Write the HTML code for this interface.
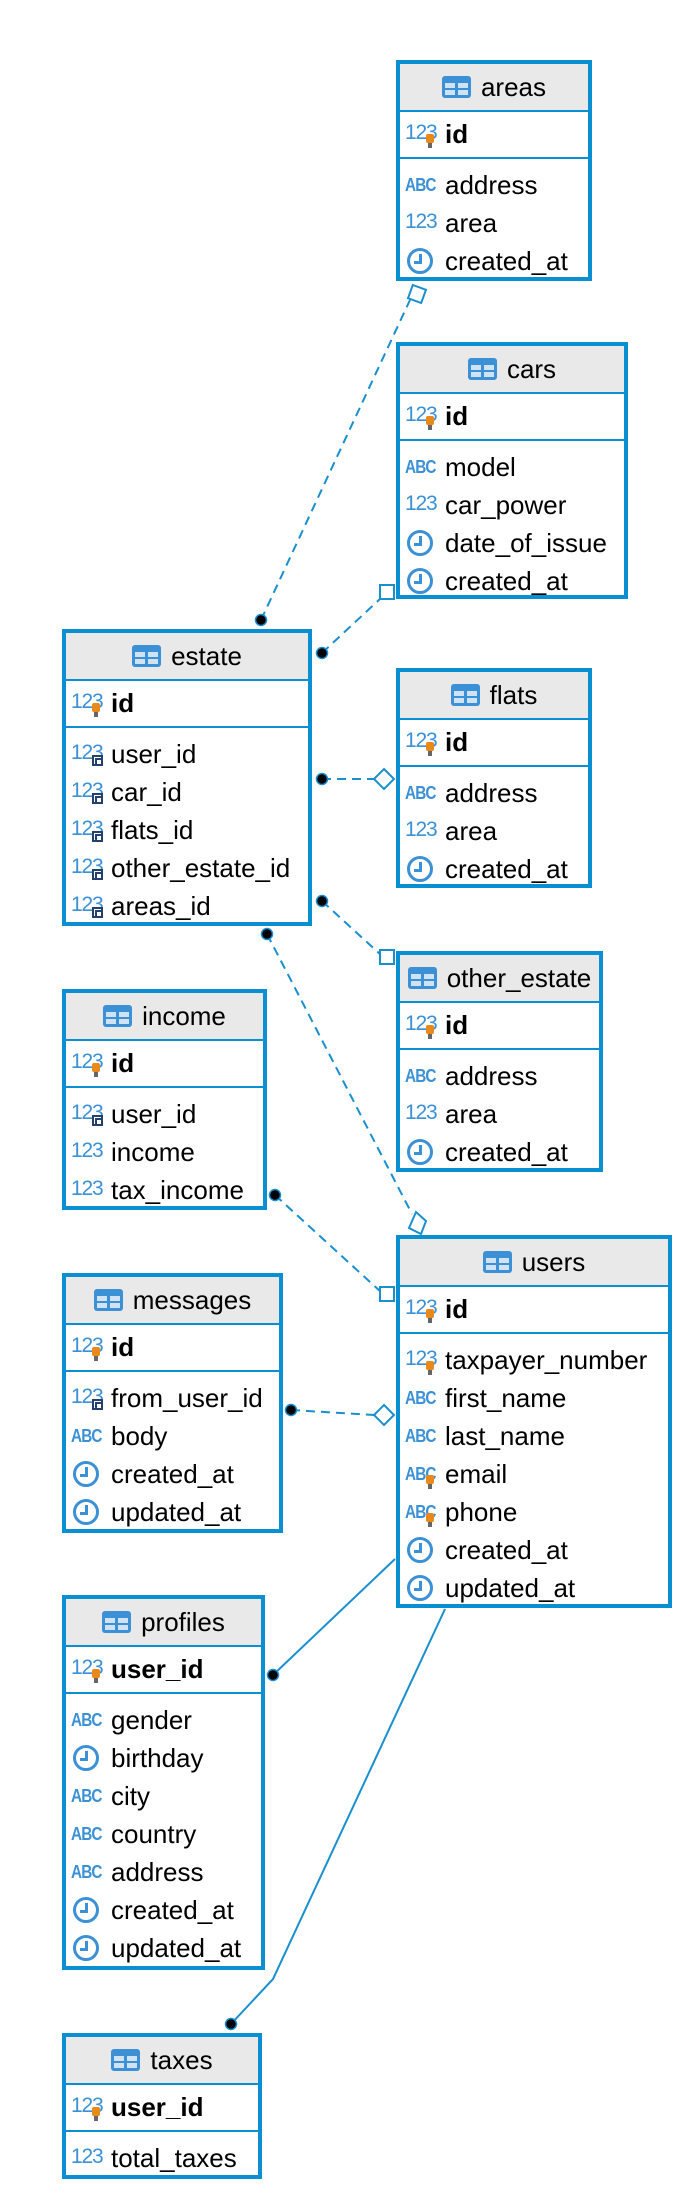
<!DOCTYPE html>
<html><head><meta charset="utf-8"><style>
*{box-sizing:border-box;margin:0;padding:0}
body{width:688px;height:2198px;background:#fff;position:relative;overflow:hidden;font-family:"Liberation Sans",sans-serif;color:#000}
.t{position:absolute;border:4px solid #0b8fd3;background:#fff;overflow:hidden}
.h{height:48px;background:#e9e9e9;border-bottom:2px solid #0b8fd3;display:flex;align-items:center;justify-content:center;font-size:26px}
.h svg{margin-right:10px}
.k{height:47px;border-bottom:2px solid #0b8fd3;position:relative;font-size:26px;font-weight:bold;line-height:45px}
.fs{padding-top:7px}
.r{height:38px;position:relative;font-size:26px;line-height:38px}
.tx{position:absolute;left:45px;top:0;white-space:nowrap}
.k .tx{line-height:45px}
.i{position:absolute;left:5px;top:0;width:36px;height:38px}
.k .i{height:45px}
.n{position:absolute;left:0;top:8px;font-size:21px;color:#3b90d6;font-weight:normal;line-height:20px;letter-spacing:-1.2px}
.k .n{top:11px}
.a{position:absolute;left:0;top:10px;font-size:18px;color:#3b90d6;font-weight:bold;line-height:18px;letter-spacing:-1px;transform:scaleX(.85);transform-origin:0 0}
.c{position:absolute;left:2px;top:6px;width:26px;height:26px;border:3px solid #3b90d6;border-radius:50%}
.c:before{content:"";position:absolute;left:9px;top:3px;width:3px;height:9px;background:#3b90d6}
.c:after{content:"";position:absolute;left:4px;top:10px;width:8px;height:3px;background:#3b90d6}
.p{position:absolute;left:21px;top:20px;width:8px;height:9px;background:#e8891a;border-radius:2px}
.p:after{content:"";position:absolute;left:2px;top:9px;width:4px;height:5px;background:#666}
.k .p{top:22px}
.f{position:absolute;left:21px;top:20px;width:11px;height:11px;background:#fff;border:2px solid #23406e}
.f:after{content:"";position:absolute;left:1px;top:1px;width:4px;height:4px;border-left:2px solid #23406e;border-top:2px solid #23406e}
svg.l{position:absolute;left:0;top:0}
</style></head><body>

<!-- areas -->
<div class="t" style="left:396px;top:60px;width:196px;height:221px">
<div class="h"><svg width="29" height="22"><rect width="29" height="22" rx="3" fill="#3b90d6"/><rect x="3" y="7" width="10" height="5" fill="#cfe3f5"/><rect x="16" y="7" width="10" height="5" fill="#cfe3f5"/><rect x="3" y="14" width="10" height="5" fill="#cfe3f5"/><rect x="16" y="14" width="10" height="5" fill="#cfe3f5"/></svg>areas</div>
<div class="k"><div class="i"><span class="n">123</span><span class="p"></span></div><span class="tx">id</span></div>
<div class="fs">
<div class="r"><div class="i"><span class="a">ABC</span></div><span class="tx">address</span></div>
<div class="r"><div class="i"><span class="n">123</span></div><span class="tx">area</span></div>
<div class="r"><div class="i"><span class="c"></span></div><span class="tx">created_at</span></div>
</div></div>

<!-- cars -->
<div class="t" style="left:396px;top:342px;width:232px;height:257px">
<div class="h"><svg width="29" height="22"><rect width="29" height="22" rx="3" fill="#3b90d6"/><rect x="3" y="7" width="10" height="5" fill="#cfe3f5"/><rect x="16" y="7" width="10" height="5" fill="#cfe3f5"/><rect x="3" y="14" width="10" height="5" fill="#cfe3f5"/><rect x="16" y="14" width="10" height="5" fill="#cfe3f5"/></svg>cars</div>
<div class="k"><div class="i"><span class="n">123</span><span class="p"></span></div><span class="tx">id</span></div>
<div class="fs">
<div class="r"><div class="i"><span class="a">ABC</span></div><span class="tx">model</span></div>
<div class="r"><div class="i"><span class="n">123</span></div><span class="tx">car_power</span></div>
<div class="r"><div class="i"><span class="c"></span></div><span class="tx">date_of_issue</span></div>
<div class="r"><div class="i"><span class="c"></span></div><span class="tx">created_at</span></div>
</div></div>

<!-- estate -->
<div class="t" style="left:62px;top:629px;width:250px;height:297px">
<div class="h"><svg width="29" height="22"><rect width="29" height="22" rx="3" fill="#3b90d6"/><rect x="3" y="7" width="10" height="5" fill="#cfe3f5"/><rect x="16" y="7" width="10" height="5" fill="#cfe3f5"/><rect x="3" y="14" width="10" height="5" fill="#cfe3f5"/><rect x="16" y="14" width="10" height="5" fill="#cfe3f5"/></svg>estate</div>
<div class="k"><div class="i"><span class="n">123</span><span class="p"></span></div><span class="tx">id</span></div>
<div class="fs">
<div class="r"><div class="i"><span class="n">123</span><span class="f"></span></div><span class="tx">user_id</span></div>
<div class="r"><div class="i"><span class="n">123</span><span class="f"></span></div><span class="tx">car_id</span></div>
<div class="r"><div class="i"><span class="n">123</span><span class="f"></span></div><span class="tx">flats_id</span></div>
<div class="r"><div class="i"><span class="n">123</span><span class="f"></span></div><span class="tx">other_estate_id</span></div>
<div class="r"><div class="i"><span class="n">123</span><span class="f"></span></div><span class="tx">areas_id</span></div>
</div></div>

<!-- flats -->
<div class="t" style="left:396px;top:668px;width:196px;height:220px">
<div class="h"><svg width="29" height="22"><rect width="29" height="22" rx="3" fill="#3b90d6"/><rect x="3" y="7" width="10" height="5" fill="#cfe3f5"/><rect x="16" y="7" width="10" height="5" fill="#cfe3f5"/><rect x="3" y="14" width="10" height="5" fill="#cfe3f5"/><rect x="16" y="14" width="10" height="5" fill="#cfe3f5"/></svg>flats</div>
<div class="k"><div class="i"><span class="n">123</span><span class="p"></span></div><span class="tx">id</span></div>
<div class="fs">
<div class="r"><div class="i"><span class="a">ABC</span></div><span class="tx">address</span></div>
<div class="r"><div class="i"><span class="n">123</span></div><span class="tx">area</span></div>
<div class="r"><div class="i"><span class="c"></span></div><span class="tx">created_at</span></div>
</div></div>

<!-- other_estate -->
<div class="t" style="left:396px;top:951px;width:207px;height:221px">
<div class="h"><svg width="29" height="22"><rect width="29" height="22" rx="3" fill="#3b90d6"/><rect x="3" y="7" width="10" height="5" fill="#cfe3f5"/><rect x="16" y="7" width="10" height="5" fill="#cfe3f5"/><rect x="3" y="14" width="10" height="5" fill="#cfe3f5"/><rect x="16" y="14" width="10" height="5" fill="#cfe3f5"/></svg>other_estate</div>
<div class="k"><div class="i"><span class="n">123</span><span class="p"></span></div><span class="tx">id</span></div>
<div class="fs">
<div class="r"><div class="i"><span class="a">ABC</span></div><span class="tx">address</span></div>
<div class="r"><div class="i"><span class="n">123</span></div><span class="tx">area</span></div>
<div class="r"><div class="i"><span class="c"></span></div><span class="tx">created_at</span></div>
</div></div>

<!-- income -->
<div class="t" style="left:62px;top:989px;width:205px;height:221px">
<div class="h"><svg width="29" height="22"><rect width="29" height="22" rx="3" fill="#3b90d6"/><rect x="3" y="7" width="10" height="5" fill="#cfe3f5"/><rect x="16" y="7" width="10" height="5" fill="#cfe3f5"/><rect x="3" y="14" width="10" height="5" fill="#cfe3f5"/><rect x="16" y="14" width="10" height="5" fill="#cfe3f5"/></svg>income</div>
<div class="k"><div class="i"><span class="n">123</span><span class="p"></span></div><span class="tx">id</span></div>
<div class="fs">
<div class="r"><div class="i"><span class="n">123</span><span class="f"></span></div><span class="tx">user_id</span></div>
<div class="r"><div class="i"><span class="n">123</span></div><span class="tx">income</span></div>
<div class="r"><div class="i"><span class="n">123</span></div><span class="tx">tax_income</span></div>
</div></div>

<!-- users -->
<div class="t" style="left:396px;top:1235px;width:276px;height:373px">
<div class="h"><svg width="29" height="22"><rect width="29" height="22" rx="3" fill="#3b90d6"/><rect x="3" y="7" width="10" height="5" fill="#cfe3f5"/><rect x="16" y="7" width="10" height="5" fill="#cfe3f5"/><rect x="3" y="14" width="10" height="5" fill="#cfe3f5"/><rect x="16" y="14" width="10" height="5" fill="#cfe3f5"/></svg>users</div>
<div class="k"><div class="i"><span class="n">123</span><span class="p"></span></div><span class="tx">id</span></div>
<div class="fs">
<div class="r"><div class="i"><span class="n">123</span><span class="p"></span></div><span class="tx">taxpayer_number</span></div>
<div class="r"><div class="i"><span class="a">ABC</span></div><span class="tx">first_name</span></div>
<div class="r"><div class="i"><span class="a">ABC</span></div><span class="tx">last_name</span></div>
<div class="r"><div class="i"><span class="a">ABC</span><span class="p"></span></div><span class="tx">email</span></div>
<div class="r"><div class="i"><span class="a">ABC</span><span class="p"></span></div><span class="tx">phone</span></div>
<div class="r"><div class="i"><span class="c"></span></div><span class="tx">created_at</span></div>
<div class="r"><div class="i"><span class="c"></span></div><span class="tx">updated_at</span></div>
</div></div>

<!-- messages -->
<div class="t" style="left:62px;top:1273px;width:221px;height:260px">
<div class="h"><svg width="29" height="22"><rect width="29" height="22" rx="3" fill="#3b90d6"/><rect x="3" y="7" width="10" height="5" fill="#cfe3f5"/><rect x="16" y="7" width="10" height="5" fill="#cfe3f5"/><rect x="3" y="14" width="10" height="5" fill="#cfe3f5"/><rect x="16" y="14" width="10" height="5" fill="#cfe3f5"/></svg>messages</div>
<div class="k"><div class="i"><span class="n">123</span><span class="p"></span></div><span class="tx">id</span></div>
<div class="fs">
<div class="r"><div class="i"><span class="n">123</span><span class="f"></span></div><span class="tx">from_user_id</span></div>
<div class="r"><div class="i"><span class="a">ABC</span></div><span class="tx">body</span></div>
<div class="r"><div class="i"><span class="c"></span></div><span class="tx">created_at</span></div>
<div class="r"><div class="i"><span class="c"></span></div><span class="tx">updated_at</span></div>
</div></div>

<!-- profiles -->
<div class="t" style="left:62px;top:1595px;width:203px;height:375px">
<div class="h"><svg width="29" height="22"><rect width="29" height="22" rx="3" fill="#3b90d6"/><rect x="3" y="7" width="10" height="5" fill="#cfe3f5"/><rect x="16" y="7" width="10" height="5" fill="#cfe3f5"/><rect x="3" y="14" width="10" height="5" fill="#cfe3f5"/><rect x="16" y="14" width="10" height="5" fill="#cfe3f5"/></svg>profiles</div>
<div class="k"><div class="i"><span class="n">123</span><span class="p"></span></div><span class="tx">user_id</span></div>
<div class="fs">
<div class="r"><div class="i"><span class="a">ABC</span></div><span class="tx">gender</span></div>
<div class="r"><div class="i"><span class="c"></span></div><span class="tx">birthday</span></div>
<div class="r"><div class="i"><span class="a">ABC</span></div><span class="tx">city</span></div>
<div class="r"><div class="i"><span class="a">ABC</span></div><span class="tx">country</span></div>
<div class="r"><div class="i"><span class="a">ABC</span></div><span class="tx">address</span></div>
<div class="r"><div class="i"><span class="c"></span></div><span class="tx">created_at</span></div>
<div class="r"><div class="i"><span class="c"></span></div><span class="tx">updated_at</span></div>
</div></div>

<!-- taxes -->
<div class="t" style="left:62px;top:2033px;width:200px;height:146px">
<div class="h"><svg width="29" height="22"><rect width="29" height="22" rx="3" fill="#3b90d6"/><rect x="3" y="7" width="10" height="5" fill="#cfe3f5"/><rect x="16" y="7" width="10" height="5" fill="#cfe3f5"/><rect x="3" y="14" width="10" height="5" fill="#cfe3f5"/><rect x="16" y="14" width="10" height="5" fill="#cfe3f5"/></svg>taxes</div>
<div class="k"><div class="i"><span class="n">123</span><span class="p"></span></div><span class="tx">user_id</span></div>
<div class="fs">
<div class="r"><div class="i"><span class="n">123</span></div><span class="tx">total_taxes</span></div>
</div></div>

<svg class="l" width="688" height="2198" viewBox="0 0 688 2198">
<g stroke="#1a8fd0" stroke-width="2" fill="none" stroke-dasharray="9,6">
<line x1="261" y1="620" x2="410" y2="300"/>
<line x1="322" y1="653" x2="381" y2="598"/>
<line x1="322" y1="779" x2="374" y2="779"/>
<line x1="322" y1="901" x2="381" y2="955"/>
<line x1="267" y1="934" x2="412" y2="1214"/>
<line x1="275" y1="1195" x2="381" y2="1292"/>
<line x1="291" y1="1410" x2="374" y2="1415"/>
</g>
<g stroke="#1a8fd0" stroke-width="2" fill="none">
<line x1="273" y1="1675" x2="395" y2="1559"/>
<polyline points="445,1609 273,1979 231,2024"/>
</g>
<g stroke="#1a8fd0" stroke-width="2" fill="#fff">
<rect x="410" y="287" width="14" height="14" transform="rotate(20 417 294)"/>
<rect x="380" y="585" width="14" height="14"/>
<path d="M384 769 L394 779 L384 789 L374 779 Z"/>
<rect x="380" y="950" width="14" height="14"/>
<path d="M416 1212 L426 1221 L421 1234 L409 1228 Z"/>
<rect x="380" y="1287" width="14" height="14"/>
<path d="M384 1405 L394 1415 L384 1425 L374 1415 Z"/>
</g>
<g fill="#000" stroke="#1a8fd0" stroke-width="1.5">
<circle cx="261" cy="620" r="5.5"/>
<circle cx="322" cy="653" r="5.5"/>
<circle cx="322" cy="779" r="5.5"/>
<circle cx="322" cy="901" r="5.5"/>
<circle cx="267" cy="934" r="5.5"/>
<circle cx="275" cy="1195" r="5.5"/>
<circle cx="291" cy="1410" r="5.5"/>
<circle cx="273" cy="1675" r="5.5"/>
<circle cx="231" cy="2024" r="5.5"/>
</g>
</svg>
</body></html>
